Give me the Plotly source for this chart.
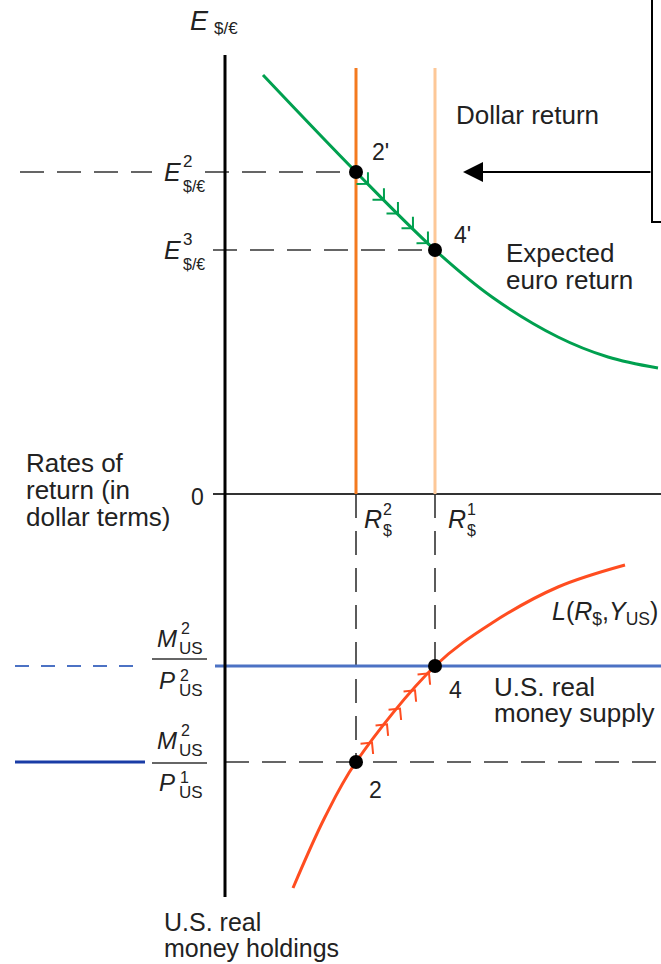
import numpy as np
import plotly.graph_objects as go

# ---------------- data ----------------
# rates of return (dollar terms)
R2 = 13.1          # R$^2
R1 = 21.0          # R$^1
# exchange rates
E2 = 32.2          # E$/€^2
E3 = 24.4          # E$/€^3
# real money supplies
MP2 = 17.2         # M2/P2
MP1 = 26.8         # M2/P1

# expected euro return curve (x = rate of return, y = E$/€)
euro_x = [3.8, 13.1, 21.0, 26.7, 33.3, 38.3, 43.3]
euro_y = [41.9, 32.2, 24.4, 19.7, 15.7, 13.7, 12.6]

# money demand L(R$, Y_US) (x = rate of return, y = real money holdings)
demand_x = [6.8, 10.0, 13.1, 21.0, 26.7, 33.3, 40.0]
demand_y = [39.4, 32.3, 26.8, 17.2, 12.9, 9.3, 7.1]

# positions of the adjustment chevrons along the curves
euro_chevron_x = [14.3, 15.9, 17.3, 18.8, 20.3]
demand_chevron_x = [14.7, 16.2, 17.5, 19.0, 20.4]

# ---------------- styling ----------------
FONT = "Liberation Sans, Arial, Helvetica, sans-serif"
TXT = "#222222"
GREEN = "#00a04f"
ORANGE = "#f47a1f"
LIGHT_ORANGE = "#fdc898"
RED = "#ff4d20"
BLUE = "#4c72c4"
DARK_BLUE = "#1a3ca6"
DASH_COL = "#333333"
DASH = "24px,13px"

X_MIN, X_MAX = -22.5, 43.6
E_TOP, E_BOT = 49.4, -47.0      # top-panel axis range (E = 0 at the zero line)
M_BOT, M_TOP = 47.0, -49.4      # bottom-panel axis range (reversed)

fig = go.Figure()


def line(x, y, axis="y", color="black", width=2, dash=None):
    fig.add_trace(go.Scatter(
        x=x, y=y, yaxis=axis, mode="lines",
        line=dict(color=color, width=width, dash=dash),
        hoverinfo="skip", showlegend=False))


# ---- top panel dashed guides ----
line([-20.5, -7.3], [E2, E2], dash=DASH, color=DASH_COL, width=1.6)
line([-2.0, R2], [E2, E2], dash=DASH, color=DASH_COL, width=1.6)
line([-1.2, R1], [E3, E3], dash=DASH, color=DASH_COL, width=1.6)

# ---- bottom panel dashed guides ----
line([R2, R2], [0, MP1], axis="y2", dash=DASH, color=DASH_COL, width=1.6)
line([R1, R1], [0, MP2], axis="y2", dash=DASH, color=DASH_COL, width=1.6)
line([0, X_MAX], [MP1, MP1], axis="y2", dash=DASH, color=DASH_COL, width=1.6)

# ---- money supply lines ----
line([-1.0, X_MAX], [MP2, MP2], axis="y2", color=BLUE, width=3)
line([-21.0, -8.2], [MP2, MP2], axis="y2", color=BLUE, width=2, dash="14px,12px")
line([-21.0, -8.0], [MP1, MP1], axis="y2", color=DARK_BLUE, width=3)

# ---- zero line and vertical axis ----
line([-1.2, X_MAX], [0, 0], color="#333333", width=1.8)
line([0, 0], [43.9, 0], color="black", width=3)
line([0, 0], [0, 40.3], axis="y2", color="black", width=3)

# ---- dollar return lines ----
line([R2, R2], [42.6, 0], color=ORANGE, width=3)
line([R1, R1], [42.6, 0], color=LIGHT_ORANGE, width=3)

# ---- curves ----
fig.add_trace(go.Scatter(x=euro_x, y=euro_y, mode="lines",
                         line=dict(color=GREEN, width=3, shape="spline", smoothing=1.0),
                         hoverinfo="skip", showlegend=False))
fig.add_trace(go.Scatter(x=demand_x, y=demand_y, yaxis="y2", mode="lines",
                         line=dict(color=RED, width=3, shape="spline", smoothing=1.0),
                         hoverinfo="skip", showlegend=False))


def chevrons(xs, cx, cy, ysign, axis, color, arm=1.15):
    px, py = [], []
    for xt in xs:
        yt = float(np.interp(xt, cx, cy))
        h = 0.3
        ya = float(np.interp(xt - h, cx, cy))
        yb = float(np.interp(xt + h, cx, cy))
        dx, dy = 2 * h, ysign * (yb - ya)
        n = np.hypot(dx, dy)
        bx, by = -dx / n, -dy / n
        ends = []
        for ang in (np.pi / 4, -np.pi / 4):
            ax_ = bx * np.cos(ang) - by * np.sin(ang)
            ay_ = bx * np.sin(ang) + by * np.cos(ang)
            ends.append((xt + arm * ax_, yt + arm * ay_ / ysign))
        px += [ends[0][0], xt, ends[1][0], None]
        py += [ends[0][1], yt, ends[1][1], None]
    fig.add_trace(go.Scatter(x=px, y=py, yaxis=axis, mode="lines",
                             line=dict(color=color, width=2),
                             hoverinfo="skip", showlegend=False))


chevrons(euro_chevron_x, euro_x, euro_y, 1, "y", GREEN)
chevrons(demand_chevron_x, demand_x, demand_y, -1, "y2", RED)

# ---- equilibrium points ----
fig.add_trace(go.Scatter(x=[R2, R1], y=[E2, E3], mode="markers",
                         marker=dict(color="black", size=14),
                         hoverinfo="skip", showlegend=False))
fig.add_trace(go.Scatter(x=[R2, R1], y=[MP1, MP2], yaxis="y2", mode="markers",
                         marker=dict(color="black", size=14),
                         hoverinfo="skip", showlegend=False))

# ---- callout box edge and arrow ----
line([42.7, 42.7, 44.5], [52.0, 27.2, 27.2], color="black", width=2)
fig.add_annotation(x=23.8, y=E2, ax=42.7, ay=E2, xref="x", yref="y",
                   axref="x", ayref="y", text="", showarrow=True,
                   arrowhead=2, arrowsize=2.0, arrowwidth=2, arrowcolor="black")

# ---- fraction bars ----
line([-7.3, -1.8], [MP2 - 0.7, MP2 - 0.7], axis="y2", color="#333333", width=1.6)
line([-7.3, -1.8], [MP1 + 0.1, MP1 + 0.1], axis="y2", color="#333333", width=1.6)


# ---------------- text ----------------
def label(text, x, y, size, axis="y", xanchor="left", italic=False):
    if italic:
        text = "<i>" + text + "</i>"
    fig.add_annotation(x=x, y=y, xref="x", yref=axis, text=text, showarrow=False,
                       xanchor=xanchor, yanchor="middle", borderpad=0,
                       font=dict(family=FONT, size=size, color=TXT))


# axis title E$/€
label("E", -2.6, 47.3, 27, xanchor="center", italic=True)
label("$/€", -1.2, 46.6, 17)

# E$/€ levels
for val, sup in ((E2, "2"), (E3, "3")):
    label("E", -4.3, val, 25, xanchor="right", italic=True)
    label(sup, -4.3, val + 1.1, 17)
    label("$/€", -4.3, val - 1.4, 16)

# point labels (top)
label("2'", R2 + 1.5, E2 + 2.0, 23)
label("4'", R1 + 1.8, E3 + 1.5, 23)

label("Dollar return", 23.0, 37.9, 26)
label("Expected", 28.0, 24.1, 26)
label("euro return", 28.0, 21.4, 26)

label("Rates of", -20.0, 3.1, 26)
label("return (in", -20.0, 0.4, 26)
label("dollar terms)", -20.0, -2.3, 26)
label("0", -2.8, -0.3, 23, xanchor="center")

# R$ labels
for val, sup, off in ((R2, "2", 0.7), (R1, "1", 1.2)):
    label("R", val + off, -2.5, 25, italic=True)
    label(sup, val + off + 1.9, -1.5, 16)
    label("$", val + off + 1.9, -3.6, 16)

# bottom panel labels
label("2", R2 + 1.2, MP1 + 2.8, 23, axis="y2")
label("4", R1 + 1.3, MP2 + 2.4, 23, axis="y2")
label("<i>L</i>(<i>R</i><sub>$</sub>,<i>Y</i><sub>US</sub>)", 32.6, 11.9, 25, axis="y2")
label("U.S. real", 26.8, 19.3, 26, axis="y2")
label("money supply", 26.8, 21.9, 26, axis="y2")

# fractions M2/P2 and M2/P1
for val, psup, offs in ((MP2, "2", (-2.8, -3.8, -1.8, 1.4, 0.9, 2.4)),
                        (MP1, "1", (-2.2, -3.2, -1.2, 2.0, 1.5, 3.0))):
    m, msup, msub, p, psu, psb = offs
    label("M", -5.8, val + m, 24, axis="y2", xanchor="center", italic=True)
    label("2", -4.5, val + msup, 16, axis="y2")
    label("US", -4.7, val + msub, 17, axis="y2")
    label("P", -5.8, val + p, 24, axis="y2", xanchor="center", italic=True)
    label(psup, -4.6, val + psu, 16, axis="y2")
    label("US", -4.7, val + psb, 17, axis="y2")

label("U.S. real", -6.2, 42.8, 25, axis="y2")
label("money holdings", -6.2, 45.4, 25, axis="y2")

fig.update_layout(
    width=661, height=964,
    margin=dict(l=0, r=0, t=0, b=0, pad=0),
    paper_bgcolor="white", plot_bgcolor="white",
    showlegend=False, hovermode=False,
    xaxis=dict(range=[X_MIN, X_MAX], visible=False, showgrid=False, zeroline=False),
    yaxis=dict(range=[E_BOT, E_TOP], visible=False, showgrid=False, zeroline=False),
    yaxis2=dict(range=[M_BOT, M_TOP], visible=False, showgrid=False, zeroline=False,
                overlaying="y", anchor="x"),
)

fig.write_html(
    "out.html",
    config={"displayModeBar": False, "staticPlot": True},
    post_script="document.body.style.margin='0';document.body.style.overflow='hidden';",
)
